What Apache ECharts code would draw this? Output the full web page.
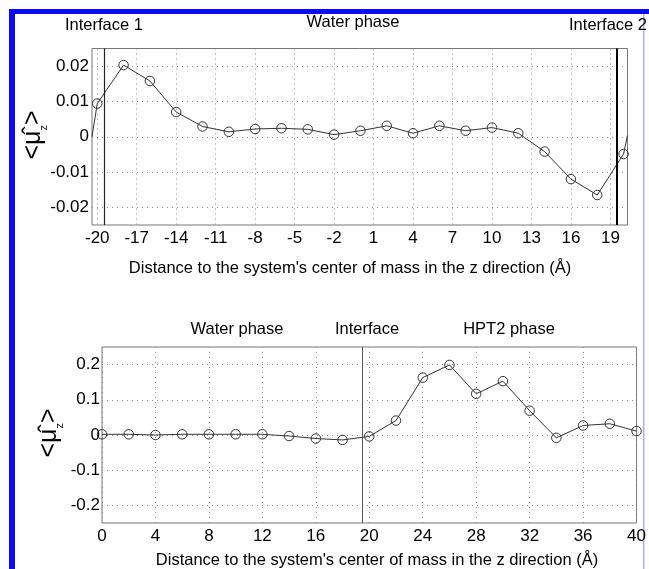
<!DOCTYPE html>
<html>
<head>
<meta charset="utf-8">
<script src="https://cdn.jsdelivr.net/npm/echarts@6/dist/echarts.min.js"></script>
<style>html,body{margin:0;padding:0;background:#fff;}#c{width:649px;height:569px;}</style>
</head>
<body>
<div id="c"></div>
<script>
// ---- Data (top panel) ----
const topX = [-20,-18,-16,-14,-12,-10,-8,-6,-4,-2,0,2,4,6,8,10,12,14,16,18,20];
const topY = [0.0094,0.0203,0.0158,0.0070,0.0029,0.0014,0.0022,0.0024,0.0021,0.0006,0.0017,0.0031,0.0010,0.0031,0.0017,0.0026,0.0010,-0.0042,-0.0120,-0.0165,-0.0049];
const topEdgeStart = [-20.4, 0.0];
const topEdgeEnd = [20.3, 0.0004];
const topXTicks = [-20,-17,-14,-11,-8,-5,-2,1,4,7,10,13,16,19];
const topYTicks = [-0.02,-0.01,0,0.01,0.02];
const topInterfaceLeft = -19.5;
const topInterfaceRight = 19.5;
const topLabels = ['Interface 1','Water phase','Interface 2'];

// ---- Data (bottom panel) ----
const botX = [0,2,4,6,8,10,12,14,16,18,20,22,24,26,28,30,32,34,36,38,40];
const botY = [0.002,0.002,0.000,0.002,0.002,0.002,0.002,-0.003,-0.010,-0.014,-0.004,0.041,0.163,0.199,0.117,0.153,0.069,-0.008,0.027,0.032,0.011];
const botYTicks = [-0.2,-0.1,0,0.1,0.2];
const botInterface = 19.5;
const botLabels = ['Water phase','Interface','HPT2 phase'];

const xTitle = "Distance to the system's center of mass in the z direction (Å)";

const FONT = '"Liberation Sans", Arial, sans-serif';
const chart = echarts.init(document.getElementById('c'), null, {renderer:'canvas'});

const gridLine = {show:true, lineStyle:{color:'#8a8a8a', type:[1,4], width:1}};
const lbl = {color:'#000', fontFamily:FONT, fontSize:17};

const topData = [ {value: topEdgeStart, symbol:'none'} ]
  .concat(topX.map((x,i)=>[x, topY[i]]))
  .concat([{value: topEdgeEnd, symbol:'none'}]);
const botData = botX.map((x,i)=>[x, botY[i]]);

const yName = (x, y) => ({
  type:'text', x:x, y:y, rotation: Math.PI/2,
  style:{
    text:'<μ̂{s|z}>',
    rich:{ s:{fontSize:11, fontFamily:FONT, fill:'#000', verticalAlign:'bottom', padding:[0,0,-4,0]} },
    font:'25px ' + FONT, fill:'#000', align:'center', verticalAlign:'middle'
  }
});
const txt = (t, x, y, align) => ({
  type:'text', x:x, y:y,
  style:{text:t, font:'16.5px ' + FONT, fill:'#000', align:align||'center', verticalAlign:'middle'}
});

chart.setOption({
  animation:false,
  backgroundColor:'#fff',
  grid:[
    {left:92, top:48.5, width:535.5, height:176.5, show:true, borderColor:'#777', borderWidth:1, containLabel:false},
    {left:102, top:347, width:537, height:176, show:true, borderColor:'#777', borderWidth:1, containLabel:false}
  ],
  xAxis:[
    {gridIndex:0, type:'value', min:-20.4, max:20.3,
     axisLine:{show:false}, axisTick:{show:false, customValues:topXTicks},
     axisLabel:Object.assign({customValues:topXTicks, margin:5}, lbl),
     splitLine:gridLine},
    {gridIndex:1, type:'value', min:0, max:40, interval:4,
     axisLine:{show:false}, axisTick:{show:false},
     axisLabel:Object.assign({margin:5, showMinLabel:true, showMaxLabel:true}, lbl),
     splitLine:gridLine}
  ],
  yAxis:[
    {gridIndex:0, type:'value', min:-0.025, max:0.025,
     axisLine:{show:false}, axisTick:{show:false, customValues:topYTicks},
     axisLabel:Object.assign({customValues:topYTicks, margin:3}, lbl),
     splitLine:gridLine},
    {gridIndex:1, type:'value', min:-0.25, max:0.25,
     axisLine:{show:false}, axisTick:{show:false, customValues:botYTicks},
     axisLabel:Object.assign({customValues:botYTicks, margin:2}, lbl),
     splitLine:gridLine}
  ],
  series:[
    {type:'line', xAxisIndex:0, yAxisIndex:0, data:topData,
     symbol:'circle', symbolSize:9.5, showAllSymbol:true,
     lineStyle:{color:'#333', width:1},
     itemStyle:{color:'rgba(255,255,255,0)', borderColor:'#333', borderWidth:1},
     markLine:{silent:true, symbol:'none', label:{show:false},
       data:[
         {xAxis:topInterfaceLeft, lineStyle:{color:'#222', type:'solid', width:1.2}},
         {xAxis:topInterfaceRight, lineStyle:{color:'#000', type:'solid', width:2}}
       ]}},
    {type:'line', xAxisIndex:1, yAxisIndex:1, data:botData,
     symbol:'circle', symbolSize:9.5, showAllSymbol:true,
     lineStyle:{color:'#333', width:1},
     itemStyle:{color:'rgba(255,255,255,0)', borderColor:'#333', borderWidth:1},
     markLine:{silent:true, symbol:'none', label:{show:false},
       lineStyle:{color:'#555', type:'solid', width:1},
       data:[{xAxis:botInterface}]}}
  ],
  graphic:[
    {type:'rect', shape:{x:9, y:9, width:6, height:560}, style:{fill:'#0a0af5'}},
    {type:'rect', shape:{x:9, y:9, width:640, height:5}, style:{fill:'#0a0af5'}},
    {type:'rect', shape:{x:643, y:14, width:1.5, height:555}, style:{fill:'#aab0ff'}},
    txt(topLabels[0], 65, 25, 'left'),
    txt(topLabels[1], 353, 22.5),
    txt(topLabels[2], 647, 25, 'right'),
    txt(xTitle, 350, 268),
    txt(botLabels[0], 237, 329),
    txt(botLabels[1], 367, 329),
    txt(botLabels[2], 509, 329),
    txt(xTitle, 377, 560),
    yName(33, 135),
    yName(49, 433)
  ]
});
</script>
</body>
</html>
